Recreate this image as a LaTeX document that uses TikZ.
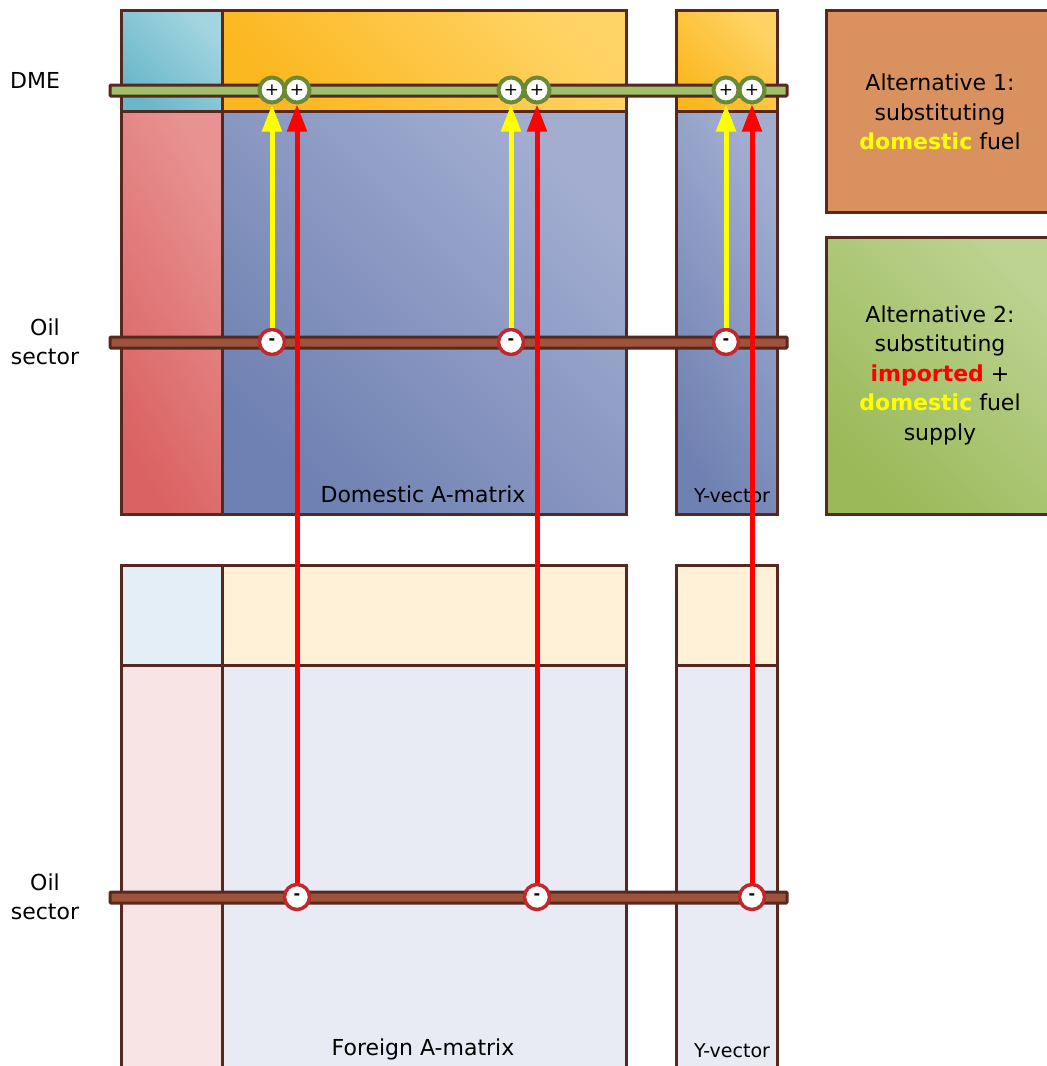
\documentclass[tikz,border=0pt]{standalone}
\usepackage{fontspec}
\setmainfont{DejaVu Sans}
\usetikzlibrary{arrows.meta}
\definecolor{edge}{HTML}{55291F}
\definecolor{tealA}{HTML}{69B7CA}
\definecolor{tealB}{HTML}{A3D5E0}
\definecolor{orA}{HTML}{FBB71F}
\definecolor{orB}{HTML}{FFD466}
\definecolor{rdA}{HTML}{DA6262}
\definecolor{rdB}{HTML}{E89292}
\definecolor{blA}{HTML}{6F81B2}
\definecolor{blB}{HTML}{A2ADD0}
\definecolor{ltTeal}{HTML}{E3EEF7}
\definecolor{ltOr}{HTML}{FFF1D8}
\definecolor{ltRd}{HTML}{F8E4E4}
\definecolor{ltBl}{HTML}{E8EBF4}
\definecolor{boxOr}{HTML}{D9925F}
\definecolor{grA}{HTML}{9BB958}
\definecolor{grB}{HTML}{BCD392}
\definecolor{barGr}{HTML}{9DC068}
\definecolor{barBr}{HTML}{A0533B}
\definecolor{pgreen}{HTML}{6B8A35}
\definecolor{mred}{HTML}{C0282C}
\definecolor{arY}{HTML}{FFFF00}
\definecolor{arR}{HTML}{FF0000}
\begin{document}
\begin{tikzpicture}[x=1pt,y=-1pt,
  cell/.style={draw=edge, line width=3pt},
  bar/.style={draw=edge, line width=3pt, rounded corners=1pt},
  pluscirc/.style={circle, draw=pgreen, line width=4pt, fill=white, minimum size=25pt, inner sep=0pt, font=\fontsize{17}{17}\selectfont},
  minuscirc/.style={circle, draw=mred, line width=3.5pt, fill=white, minimum size=25pt, inner sep=0pt, font=\fontsize{16}{16}\selectfont\bfseries},
  yarr/.style={draw=arY, line width=5pt, -{Triangle[width=19pt,length=27pt]}},
  rarr/.style={draw=arR, line width=5pt, -{Triangle[width=19pt,length=27pt]}},
  lbl/.style={font=\fontsize{22}{29.5}\selectfont, inner sep=0pt, align=center},
  small/.style={font=\fontsize{19}{20}\selectfont, inner sep=0pt}
]
\useasboundingbox (0,0) rectangle (1047,1066);
% top block
\path[cell, bottom color=tealA, top color=tealB, shading angle=-45] (121,10) rectangle (222,111);
\path[cell, bottom color=orA, top color=orB, shading angle=-45] (222,10) rectangle (626,111);
\path[cell, bottom color=rdA, top color=rdB, shading angle=-60] (121,111) rectangle (222,514);
\path[cell, bottom color=blA, top color=blB, shading angle=-45] (222,111) rectangle (626,514);
\path[cell, bottom color=orA, top color=orB, shading angle=-45] (676,10) rectangle (777,111);
\path[cell, bottom color=blA, top color=blB, shading angle=-60] (676,111) rectangle (777,514);
% bottom block
\path[cell, fill=ltTeal] (121,565) rectangle (222,665);
\path[cell, fill=ltOr] (222,565) rectangle (626,665);
\path[cell, fill=ltRd] (121,665) rectangle (222,1080);
\path[cell, fill=ltBl] (222,665) rectangle (626,1080);
\path[cell, fill=ltOr] (676,565) rectangle (777,665);
\path[cell, fill=ltBl] (676,665) rectangle (777,1080);
% right boxes
\path[cell, fill=boxOr] (826,10) rectangle (1060,212);
\path[cell, bottom color=grA, top color=grB, shading angle=-45] (826,237) rectangle (1060,514);
\node[lbl] (alt1) at (940,112) {Alternative 1:\\substituting\\\textcolor{arY}{\bfseries domestic} fuel};
\node[lbl] (alt2) at (940,375) {Alternative 2:\\substituting\\\textcolor{arR}{\bfseries imported} +\\\textcolor{arY}{\bfseries domestic} fuel\\supply};
% bars
\path[bar, fill=barGr] (110,85) rectangle (787,96);
\path[bar, fill=barBr] (110,337) rectangle (787,348);
\path[bar, fill=barBr] (110,892) rectangle (787,903);
% labels
\node[lbl] (dme) at (35,80) {DME};
\node[lbl] (oil1) at (45,342) {Oil\\sector};
\node[lbl] (oil2) at (45,897) {Oil\\sector};
\node[lbl] (dom) at (423,494) {Domestic A-matrix};
\node[small] (yv1) at (732,496) {Y-vector};
\node[lbl] (for) at (423,1049) {Foreign A-matrix};
\node[small] (yv2) at (732,1051) {Y-vector};
% circles
\node[pluscirc] (p1) at (272,90) {+};
\node[pluscirc] (p2) at (297,90) {+};
\node[pluscirc] (p3) at (511,90) {+};
\node[pluscirc] (p4) at (537,90) {+};
\node[pluscirc] (p5) at (726,90) {+};
\node[pluscirc] (p6) at (752,90) {+};
\node[minuscirc] (m1) at (272,342) {-};
\node[minuscirc] (m3) at (511,342) {-};
\node[minuscirc] (m5) at (726,342) {-};
\node[minuscirc] (n2) at (297,897) {-};
\node[minuscirc] (n4) at (537,897) {-};
\node[minuscirc] (n6) at (752,897) {-};
% arrows
\draw[yarr] (m1) -- (p1);
\draw[yarr] (m3) -- (p3);
\draw[yarr] (m5) -- (p5);
\draw[rarr] (n2) -- (p2);
\draw[rarr] (n4) -- (p4);
\draw[rarr] (n6) -- (p6);
\end{tikzpicture}
\end{document}
